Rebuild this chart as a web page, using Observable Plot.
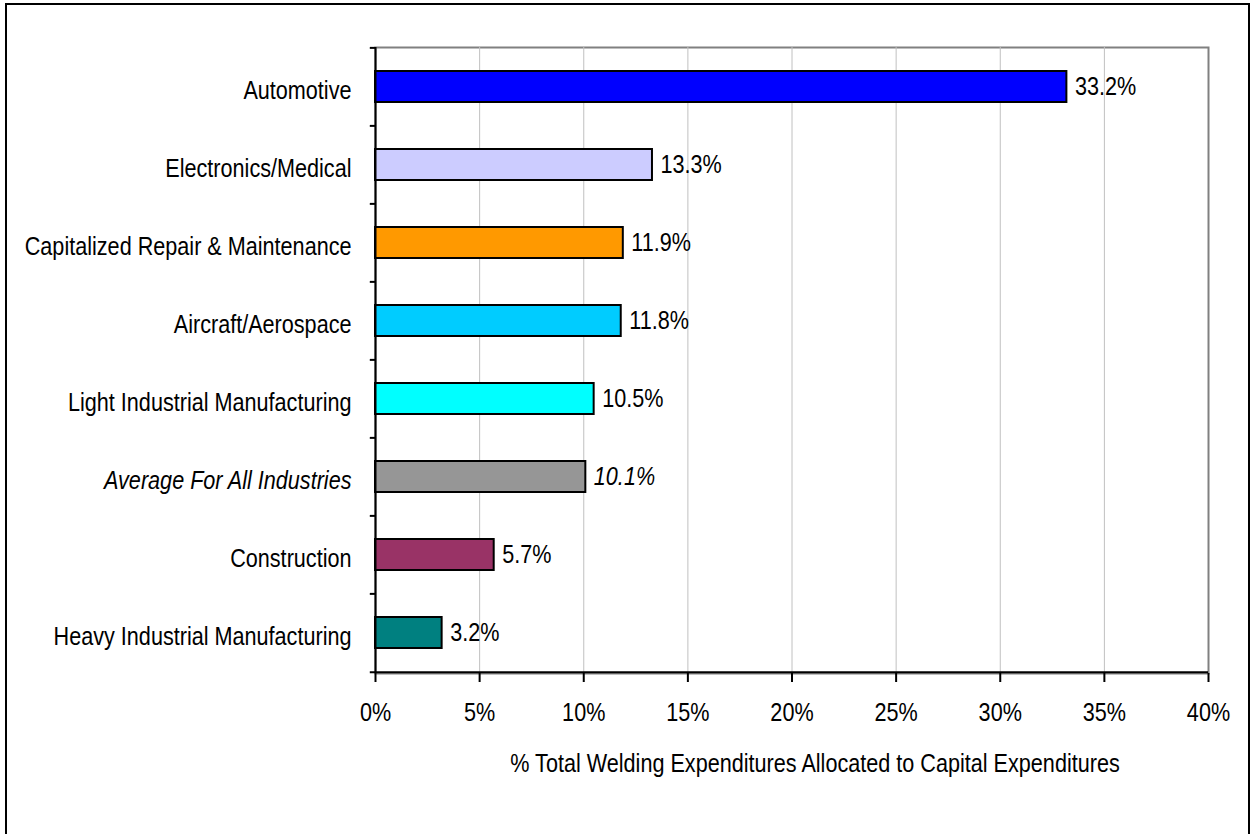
<!DOCTYPE html>
<html>
<head>
<meta charset="utf-8">
<script src="https://cdn.jsdelivr.net/npm/d3@7"></script>
<script src="https://cdn.jsdelivr.net/npm/@observablehq/plot@0.6"></script>
<style>
  html, body { margin: 0; padding: 0; background: #fff; overflow: hidden; }
  #wrap { position: relative; width: 1251px; height: 834px; }
  #border { position: absolute; left: 5px; top: 3px; width: 1241px; height: 900px; border: 2px solid #000; pointer-events: none; }
</style>
</head>
<body>
<div id="wrap"><div id="chart"></div><div id="border"></div></div>
<script>
const categories = [
  "Automotive",
  "Electronics/Medical",
  "Capitalized Repair & Maintenance",
  "Aircraft/Aerospace",
  "Light Industrial Manufacturing",
  "Average For All Industries",
  "Construction",
  "Heavy Industrial Manufacturing"
];
const values = [33.2, 13.3, 11.9, 11.8, 10.5, 10.1, 5.7, 3.2];
const colors = ["#0000FF", "#CCCCFF", "#FF9900", "#00CCFF", "#00FFFF", "#969696", "#993366", "#008080"];
const averageCategory = "Average For All Industries";
const xTicks = [0, 5, 10, 15, 20, 25, 30, 35, 40];
const gridTicks = [5, 10, 15, 20, 25, 30, 35];
const xTitle = "% Total Welding Expenditures Allocated to Capital Expenditures";

const data = categories.map((c, i) => ({category: c, value: values[i], color: colors[i]}));
const normalData = data.filter(d => d.category !== averageCategory);
const avgData = data.filter(d => d.category === averageCategory);

const W = 1251, H = 834, mT = 47, mB = 161, mL = 375, mR = 43;
const step = (H - mT - mB) / categories.length;

const chart = Plot.plot({
  width: W,
  height: H,
  marginTop: mT,
  marginBottom: mB,
  marginLeft: mL,
  marginRight: mR,
  style: {fontFamily: "'Liberation Sans', Arial, sans-serif", fontSize: "25px", color: "#000", background: "#fff"},
  x: {domain: [0, 40]},
  y: {domain: categories, paddingInner: 0.6, paddingOuter: 0.3},
  color: {type: "identity"},
  marks: [
    Plot.frame({stroke: "#808080", strokeWidth: 2}),
    Plot.gridX({ticks: gridTicks, stroke: "#c0c0c0", strokeOpacity: 1, strokeWidth: 1}),
    Plot.barX(data, {x: "value", y: "category", fill: "color", stroke: "#000", strokeWidth: 2}),
    Plot.ruleX([0], {stroke: "#000", strokeWidth: 2}),
    Plot.ruleY(categories, {y: d => d, x1: -0.25, x2: 0, dy: -step / 2, stroke: "#000", strokeWidth: 2}),
    Plot.ruleY([categories[categories.length - 1]], {y: d => d, x1: -0.25, x2: 40, dy: step / 2, stroke: "#000", strokeWidth: 2}),
    Plot.axisX({ticks: xTicks, tickFormat: d => d + "%", tickSize: 9, tickPadding: 21, stroke: "#000", strokeWidth: 2, label: null, fill: "#000"}),
    Plot.axisY({ticks: categories.filter(c => c !== averageCategory), tickSize: 0, tickPadding: 24, dy: 4, label: null, fill: "#000"}),
    Plot.axisY({ticks: [averageCategory], tickSize: 0, tickPadding: 24, dy: 4, label: null, fill: "#000", fontStyle: "italic"}),
    Plot.text(normalData, {x: "value", y: "category", text: d => d.value.toFixed(1) + "%", textAnchor: "start", dx: 8, fill: "#000"}),
    Plot.text(avgData, {x: "value", y: "category", text: d => d.value.toFixed(1) + "%", textAnchor: "start", dx: 8, fill: "#000", fontStyle: "italic"}),
    Plot.text([xTitle], {text: d => d, frameAnchor: "bottom", lineAnchor: "top", dy: 81, dx: 23, fill: "#000"})
  ]
});

// condensed text look: scale glyphs horizontally about each text's anchor
const sx = 0.865;
chart.querySelectorAll("text").forEach(t => {
  const tr = t.getAttribute("transform") || "";
  const x = +(t.getAttribute("x") || 0);
  t.setAttribute("transform", `${tr} translate(${x},0) scale(${sx},1) translate(${-x},0)`);
});

document.getElementById("chart").appendChild(chart);
</script>
</body>
</html>
